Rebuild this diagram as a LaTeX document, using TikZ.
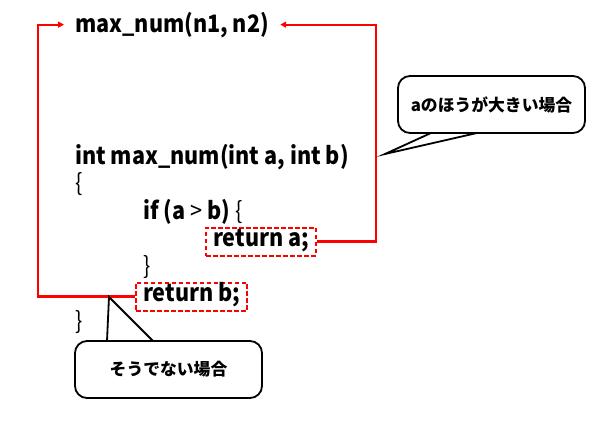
\documentclass[tikz,border=0pt]{standalone}
\usepackage{fontspec}
\setmainfont{Noto Sans CJK JP}
\newfontfamily\codefont{Noto Sans CJK JP}[FakeStretch=0.9]
\usetikzlibrary{arrows.meta}
\newcommand{\thin}[1]{{\mdseries #1}}
\begin{document}
\begin{tikzpicture}[x=1pt,y=-1pt,
  code/.style={anchor=base west,inner sep=0pt,font=\codefont\fontsize{24}{28}\selectfont\bfseries},
  retbox/.style={code,draw=red,line width=2pt,dash pattern=on 4.5pt off 2.5pt,inner xsep=7pt,inner ysep=5pt,text height=14pt,text depth=4pt},
  conn/.style={draw=red,line width=2.2pt,-{Triangle[length=6pt,width=6pt]}},
  callout/.style={draw=black,line width=1.8pt,rounded corners=12pt,minimum width=187pt,minimum height=57pt,inner sep=0pt,font=\fontsize{16.8}{18}\selectfont\bfseries,fill=white},
  tail/.style={draw=black,line width=1.8pt}]
\useasboundingbox (0,0) rectangle (600,423);
\fill[white] (0,0) rectangle (600,423);
\coordinate (xL) at (38,0);
\coordinate (xR) at (376,0);
\node[code,inner xsep=11pt] (mx) at (64,32) {max\_num(n1, n2)};
\node[code] (decl) at (75,164) {int max\_num(int a, int b)};
\node[code] (ob) at (75,191.5) {\thin{\{}};
\node[code] (if) at (143,219) {if (a \thin{>} b) \thin{\{}};
\node[retbox] (ra) at (205,246.5) {return a;};
\node[code] (cb) at (143,274) {\thin{\}}};
\node[retbox] (rb) at (135,301.5) {return b;};
\node[code] (fb) at (75,329) {\thin{\}}};
\draw[conn] (ra.east) -- (ra.east -| xR) |- (mx.east);
\draw[conn] (rb.west) -- (rb.west -| xL) |- (mx.west);
% callout 1
\node[callout] (c1) at (491.5,104.5) {aのほうが大きい場合};
\coordinate (c1a) at (431,133);
\coordinate (c1b) at (477,133);
\coordinate (c1t) at (385,154);
\fill[white] ([yshift=-1.5pt]c1a) -- (c1t) -- ([yshift=-1.5pt]c1b) -- cycle;
\draw[tail,line join=miter] (c1a) -- (c1t) -- (c1b);
% callout 2
\node[callout] (c2) at (168.5,369.5) {そうでない場合};
\coordinate (c2a) at (107,341);
\coordinate (c2b) at (153,341);
\coordinate (c2t) at (109,297);
\fill[white] ([yshift=1.5pt]c2a) -- (c2t) -- ([yshift=1.5pt]c2b) -- cycle;
\draw[tail,line join=miter] (c2a) -- (c2t) -- (c2b);
\end{tikzpicture}
\end{document}
